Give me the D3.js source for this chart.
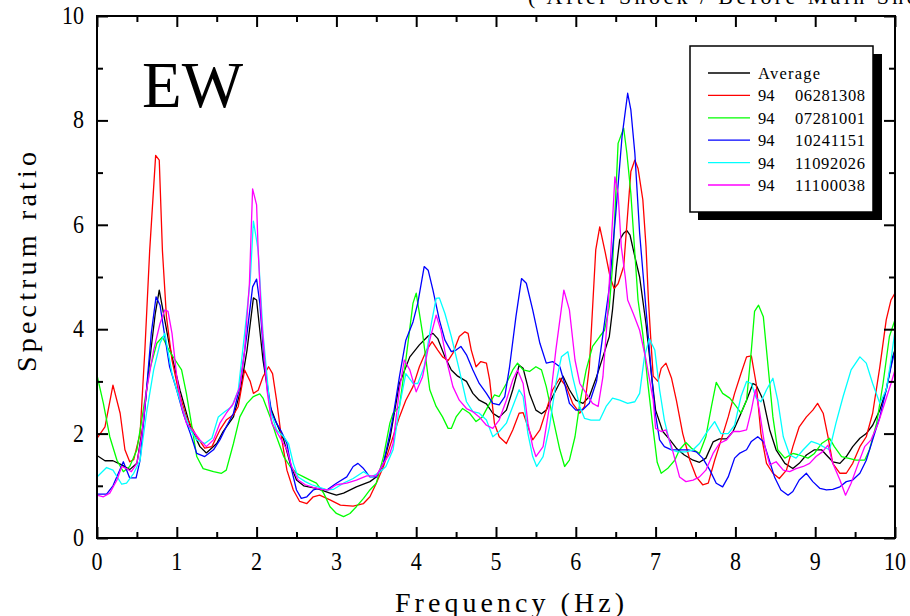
<!DOCTYPE html>
<html>
<head>
<meta charset="utf-8">
<script src="https://cdn.jsdelivr.net/npm/d3@7"></script>
<style>
  body { margin: 0; background: #fff; }
  svg { display: block; }
</style>
</head>
<body>
<svg id="chart" width="910" height="616"></svg>
<script>
// [frequency (Hz), spectrum ratio]
const average = [[0,1.58],[0.1,1.48],[0.2,1.48],[0.31,1.40],[0.41,1.31],[0.5,1.43],[0.58,2.2],[0.66,3.4],[0.73,4.3],[0.78,4.75],[0.91,3.67],[1.04,2.83],[1.17,2.13],[1.29,1.75],[1.37,1.63],[1.5,1.81],[1.58,2.04],[1.71,2.32],[1.79,2.77],[1.88,3.6],[1.96,4.6],[2.0,4.56],[2.08,3.41],[2.17,2.52],[2.25,2.2],[2.34,1.88],[2.42,1.43],[2.5,1.11],[2.59,1.0],[2.75,0.95],[2.92,0.86],[3.0,0.82],[3.09,0.86],[3.25,0.98],[3.42,1.08],[3.5,1.17],[3.59,1.43],[3.67,1.9],[3.79,2.96],[3.92,3.47],[4.04,3.70],[4.15,3.87],[4.21,3.92],[4.27,3.82],[4.36,3.47],[4.44,3.22],[4.52,3.10],[4.63,3.0],[4.71,2.77],[4.79,2.64],[4.88,2.57],[4.96,2.39],[5.04,2.31],[5.13,2.45],[5.21,2.84],[5.29,3.31],[5.34,3.25],[5.42,2.77],[5.5,2.45],[5.57,2.38],[5.63,2.45],[5.71,2.71],[5.84,3.10],[5.92,2.84],[6.0,2.64],[6.09,2.58],[6.17,2.71],[6.26,3.09],[6.34,3.47],[6.42,3.86],[6.46,4.37],[6.51,5.2],[6.55,5.71],[6.6,5.84],[6.64,5.89],[6.68,5.8],[6.74,5.39],[6.8,5.0],[6.88,4.1],[6.95,3.1],[7.0,2.45],[7.09,2.04],[7.18,1.88],[7.26,1.72],[7.36,1.59],[7.47,1.49],[7.55,1.45],[7.63,1.53],[7.72,1.84],[7.8,1.90],[7.89,1.90],[7.97,2.04],[8.05,2.32],[8.14,2.64],[8.22,2.96],[8.26,2.93],[8.35,2.64],[8.43,2.07],[8.51,1.69],[8.62,1.43],[8.72,1.33],[8.8,1.43],[8.89,1.59],[8.99,1.69],[9.08,1.69],[9.14,1.59],[9.22,1.46],[9.31,1.43],[9.39,1.56],[9.47,1.75],[9.56,1.91],[9.64,2.0],[9.72,2.16],[9.81,2.45],[9.89,2.84],[9.97,3.47],[10,3.6]];

const ev06281308 = [[0,1.91],[0.1,2.13],[0.2,2.93],[0.29,2.39],[0.35,1.69],[0.41,1.46],[0.46,1.5],[0.54,2.0],[0.6,3.6],[0.66,5.5],[0.735,7.33],[0.78,7.24],[0.82,5.5],[0.87,4.24],[0.94,3.41],[1.02,2.83],[1.12,2.32],[1.25,1.94],[1.35,1.72],[1.44,1.75],[1.54,2.07],[1.62,2.26],[1.71,2.36],[1.77,2.52],[1.85,3.22],[1.92,3.0],[1.96,2.77],[2.02,2.83],[2.08,3.09],[2.15,3.28],[2.2,3.15],[2.25,2.64],[2.31,1.94],[2.38,1.30],[2.46,0.92],[2.54,0.70],[2.63,0.66],[2.71,0.79],[2.79,0.82],[2.92,0.73],[3.05,0.63],[3.21,0.61],[3.34,0.66],[3.42,0.79],[3.5,1.05],[3.59,1.37],[3.67,1.75],[3.79,2.32],[3.87,2.64],[3.96,2.90],[4.04,3.28],[4.13,3.6],[4.2,3.76],[4.27,3.6],[4.33,3.47],[4.4,3.40],[4.46,3.54],[4.54,3.86],[4.61,3.95],[4.65,3.92],[4.69,3.6],[4.75,3.28],[4.81,3.38],[4.88,3.35],[4.92,3.03],[4.98,2.2],[5.04,1.94],[5.13,1.81],[5.21,2.07],[5.29,2.39],[5.34,2.40],[5.4,2.13],[5.46,1.88],[5.55,2.07],[5.63,2.45],[5.71,2.84],[5.8,3.06],[5.88,2.9],[5.96,2.58],[6.05,2.39],[6.11,2.52],[6.17,3.28],[6.25,5.52],[6.3,5.96],[6.37,5.46],[6.43,5.0],[6.48,4.78],[6.53,4.87],[6.6,5.2],[6.69,7.02],[6.74,7.24],[6.78,7.08],[6.84,6.48],[6.88,5.58],[6.91,4.56],[6.94,3.8],[6.97,3.1],[7.03,3.0],[7.07,3.25],[7.13,3.35],[7.2,3.06],[7.26,2.64],[7.34,2.0],[7.43,1.49],[7.51,1.17],[7.59,1.02],[7.66,1.05],[7.74,1.49],[7.82,1.87],[7.91,2.32],[7.99,2.77],[8.07,3.15],[8.14,3.47],[8.2,3.49],[8.26,2.96],[8.32,2.0],[8.39,1.43],[8.47,1.24],[8.55,1.14],[8.64,1.30],[8.72,1.75],[8.8,2.13],[8.89,2.32],[8.97,2.45],[9.03,2.58],[9.1,2.39],[9.16,1.94],[9.22,1.43],[9.31,1.24],[9.39,1.24],[9.47,1.43],[9.56,1.75],[9.64,1.94],[9.72,2.39],[9.81,3.28],[9.89,4.18],[9.95,4.56],[10,4.69]];

const ev07281001 = [[0,3.12],[0.08,2.58],[0.16,1.94],[0.25,1.49],[0.33,1.27],[0.41,1.37],[0.5,1.69],[0.58,2.45],[0.66,3.22],[0.75,3.73],[0.82,3.85],[0.9,3.6],[0.98,3.41],[1.06,3.22],[1.12,2.77],[1.19,2.13],[1.25,1.56],[1.33,1.33],[1.46,1.27],[1.56,1.24],[1.62,1.30],[1.71,1.81],[1.79,2.32],[1.88,2.58],[1.96,2.71],[2.04,2.76],[2.08,2.68],[2.17,2.32],[2.25,1.94],[2.34,1.56],[2.42,1.37],[2.5,1.24],[2.59,1.17],[2.67,1.11],[2.75,1.05],[2.84,0.86],[2.92,0.60],[3.0,0.47],[3.09,0.41],[3.17,0.47],[3.25,0.60],[3.34,0.76],[3.42,0.92],[3.5,1.05],[3.59,1.56],[3.67,2.2],[3.71,2.39],[3.79,2.52],[3.87,3.41],[3.96,4.5],[4.0,4.69],[4.08,3.92],[4.17,2.84],[4.25,2.52],[4.33,2.32],[4.4,2.10],[4.44,2.10],[4.5,2.32],[4.58,2.48],[4.67,2.39],[4.75,2.23],[4.83,2.32],[4.92,2.58],[4.98,2.74],[5.04,2.71],[5.13,2.96],[5.21,3.22],[5.27,3.35],[5.34,3.22],[5.42,3.19],[5.5,3.28],[5.57,3.22],[5.63,2.9],[5.71,2.32],[5.8,1.69],[5.86,1.37],[5.92,1.49],[5.99,1.94],[6.05,2.58],[6.13,3.22],[6.21,3.67],[6.3,3.86],[6.36,3.98],[6.42,4.43],[6.46,5.2],[6.53,7.56],[6.6,7.85],[6.64,7.37],[6.69,6.6],[6.74,5.45],[6.78,4.56],[6.84,3.9],[6.9,3.0],[6.96,2.2],[7.02,1.45],[7.07,1.24],[7.15,1.33],[7.24,1.49],[7.3,1.69],[7.38,1.83],[7.45,1.72],[7.55,1.62],[7.63,1.94],[7.7,2.52],[7.76,2.98],[7.84,2.77],[7.93,2.68],[8.01,2.52],[8.07,2.39],[8.14,2.64],[8.2,3.6],[8.24,4.34],[8.29,4.46],[8.35,4.24],[8.41,3.28],[8.47,2.32],[8.53,1.69],[8.62,1.53],[8.72,1.62],[8.8,1.59],[8.91,1.53],[8.99,1.62],[9.08,1.81],[9.18,1.91],[9.24,1.75],[9.33,1.56],[9.41,1.53],[9.51,1.49],[9.62,1.49],[9.68,1.69],[9.77,2.2],[9.85,2.96],[9.93,3.86],[10,4.18]];

const ev10241151 = [[0,0.84],[0.12,0.84],[0.2,1.0],[0.33,1.46],[0.41,1.15],[0.49,1.15],[0.54,1.49],[0.62,2.83],[0.68,3.92],[0.74,4.62],[0.79,4.46],[0.85,3.86],[0.91,3.28],[1.0,2.83],[1.08,2.39],[1.17,2.0],[1.25,1.62],[1.35,1.56],[1.46,1.69],[1.54,1.88],[1.62,2.13],[1.71,2.39],[1.79,2.9],[1.88,3.92],[1.95,4.81],[2.0,4.96],[2.04,4.5],[2.1,3.28],[2.19,2.39],[2.25,2.2],[2.31,2.04],[2.38,1.81],[2.44,1.30],[2.5,0.92],[2.56,0.76],[2.63,0.79],[2.71,0.92],[2.79,0.95],[2.88,0.92],[3.0,1.05],[3.13,1.17],[3.21,1.37],[3.27,1.43],[3.34,1.33],[3.42,1.17],[3.5,1.17],[3.59,1.43],[3.67,2.0],[3.71,2.32],[3.79,3.09],[3.87,3.79],[3.96,4.14],[4.02,4.5],[4.1,5.2],[4.15,5.13],[4.21,4.75],[4.29,4.18],[4.36,3.79],[4.44,3.57],[4.5,3.6],[4.56,3.67],[4.63,3.51],[4.71,3.22],[4.79,2.96],[4.88,2.77],[4.96,2.58],[5.04,2.55],[5.11,2.71],[5.17,3.28],[5.25,4.24],[5.32,4.97],[5.38,4.88],[5.46,4.37],[5.55,3.73],[5.63,3.35],[5.71,3.38],[5.8,3.28],[5.86,2.96],[5.92,2.58],[6.0,2.45],[6.09,2.46],[6.17,2.58],[6.26,3.0],[6.34,3.9],[6.42,4.8],[6.5,6.2],[6.58,7.7],[6.65,8.52],[6.69,8.2],[6.74,7.37],[6.8,5.84],[6.87,4.56],[6.94,3.28],[6.99,2.45],[7.05,1.88],[7.11,1.75],[7.2,1.69],[7.3,1.69],[7.41,1.69],[7.51,1.65],[7.59,1.53],[7.68,1.30],[7.76,1.05],[7.84,0.98],[7.91,1.17],[7.99,1.53],[8.05,1.62],[8.14,1.69],[8.2,1.85],[8.28,1.94],[8.35,1.85],[8.41,1.56],[8.49,1.17],[8.57,0.92],[8.66,0.82],[8.72,0.89],[8.8,1.11],[8.89,1.24],[8.97,1.08],[9.06,0.95],[9.14,0.92],[9.22,0.93],[9.31,0.98],[9.39,1.08],[9.47,1.11],[9.56,1.24],[9.64,1.49],[9.72,1.88],[9.81,2.32],[9.89,2.84],[9.95,3.28],[10,3.6]];

const ev11092026 = [[0,1.17],[0.12,1.35],[0.2,1.30],[0.31,1.03],[0.37,1.05],[0.46,1.24],[0.54,1.49],[0.62,2.39],[0.71,3.22],[0.79,3.73],[0.85,3.92],[0.94,3.15],[1.0,2.83],[1.08,2.45],[1.17,2.07],[1.25,1.88],[1.35,1.81],[1.44,1.91],[1.52,2.32],[1.6,2.42],[1.69,2.52],[1.77,2.83],[1.85,3.92],[1.92,4.94],[1.96,6.07],[2.0,5.7],[2.02,5.5],[2.08,3.92],[2.17,2.45],[2.25,2.07],[2.34,1.94],[2.4,1.81],[2.46,1.43],[2.52,1.17],[2.61,1.08],[2.69,1.02],[2.79,0.97],[2.88,0.92],[2.96,0.93],[3.09,1.05],[3.21,1.14],[3.34,1.27],[3.44,1.17],[3.55,1.27],[3.62,1.37],[3.71,1.69],[3.79,2.52],[3.87,3.15],[3.96,2.96],[4.02,2.96],[4.1,3.28],[4.19,4.11],[4.25,4.59],[4.29,4.6],[4.36,4.3],[4.44,3.86],[4.54,3.22],[4.63,2.61],[4.71,2.42],[4.79,2.39],[4.88,2.26],[4.96,1.94],[5.04,2.04],[5.13,2.2],[5.21,2.52],[5.29,2.84],[5.34,2.71],[5.4,2.0],[5.46,1.56],[5.51,1.37],[5.59,1.56],[5.67,2.13],[5.75,2.96],[5.82,3.47],[5.9,3.57],[5.96,3.09],[6.05,2.52],[6.11,2.29],[6.19,2.26],[6.3,2.26],[6.38,2.52],[6.46,2.68],[6.55,2.64],[6.65,2.58],[6.74,2.61],[6.8,2.77],[6.86,3.47],[6.92,3.82],[6.99,3.6],[7.05,2.84],[7.11,2.26],[7.2,1.69],[7.28,1.65],[7.38,1.65],[7.47,1.69],[7.55,1.81],[7.63,2.0],[7.74,2.23],[7.82,2.0],[7.91,2.0],[7.99,2.16],[8.07,2.71],[8.14,3.0],[8.2,2.96],[8.26,2.68],[8.32,2.61],[8.39,2.84],[8.47,3.06],[8.53,2.64],[8.6,1.94],[8.68,1.59],[8.76,1.53],[8.85,1.69],[8.95,1.85],[9.03,1.81],[9.1,1.75],[9.18,1.69],[9.26,2.2],[9.35,2.71],[9.45,3.22],[9.56,3.47],[9.64,3.35],[9.72,2.96],[9.81,2.58],[9.89,2.84],[9.95,3.41],[10,3.98]];

const ev11100038 = [[0,0.82],[0.08,0.79],[0.16,0.86],[0.25,1.11],[0.31,1.37],[0.37,1.33],[0.43,1.27],[0.5,1.43],[0.56,1.94],[0.62,2.83],[0.71,3.6],[0.79,4.11],[0.85,4.37],[0.89,4.34],[0.94,3.92],[1.0,3.09],[1.06,2.52],[1.12,2.2],[1.21,2.04],[1.29,1.88],[1.37,1.75],[1.46,1.88],[1.54,2.2],[1.62,2.39],[1.71,2.58],[1.79,2.9],[1.85,3.6],[1.91,4.88],[1.95,6.69],[2.0,6.38],[2.02,5.5],[2.06,4.24],[2.13,2.83],[2.19,2.2],[2.25,2.04],[2.31,1.88],[2.38,1.69],[2.44,1.37],[2.52,1.11],[2.61,1.02],[2.71,0.97],[2.82,0.93],[2.9,0.92],[3.0,1.02],[3.13,1.05],[3.25,1.11],[3.38,1.19],[3.5,1.19],[3.59,1.43],[3.67,1.62],[3.71,1.81],[3.79,2.84],[3.85,3.41],[3.92,3.22],[4.0,2.8],[4.08,3.09],[4.17,3.79],[4.25,4.27],[4.31,3.98],[4.38,3.41],[4.46,2.9],[4.54,2.64],[4.63,2.48],[4.71,2.42],[4.79,2.32],[4.88,2.16],[4.96,2.1],[5.04,2.26],[5.13,2.64],[5.21,3.03],[5.27,3.22],[5.34,2.96],[5.4,2.2],[5.46,1.75],[5.5,1.56],[5.59,1.75],[5.67,2.52],[5.75,3.6],[5.85,4.75],[5.92,4.37],[5.99,3.41],[6.05,2.96],[6.13,2.77],[6.21,2.58],[6.28,2.52],[6.34,3.09],[6.4,4.3],[6.45,5.8],[6.49,6.92],[6.53,6.6],[6.57,5.58],[6.62,5.0],[6.65,4.56],[6.72,4.3],[6.8,3.98],[6.88,3.41],[6.97,2.64],[7.0,2.1],[7.07,2.04],[7.13,2.07],[7.2,1.75],[7.3,1.17],[7.38,1.08],[7.47,1.11],[7.55,1.17],[7.63,1.30],[7.72,1.62],[7.8,1.81],[7.89,1.88],[7.97,2.04],[8.05,2.04],[8.14,2.07],[8.2,2.45],[8.25,2.84],[8.3,2.45],[8.37,1.75],[8.43,1.40],[8.51,1.46],[8.6,1.30],[8.68,1.27],[8.76,1.33],[8.85,1.37],[8.93,1.43],[9.01,1.56],[9.09,1.65],[9.16,1.78],[9.22,1.43],[9.31,1.11],[9.38,0.82],[9.45,1.05],[9.54,1.43],[9.62,1.75],[9.7,1.88],[9.79,2.2],[9.87,2.58],[9.95,2.96],[10,3.22]];

const seriesYear = ['', '94', '94', '94', '94', '94'];
const seriesNames = ['Average', '06281308', '07281001', '10241151', '11092026', '11100038'];
const seriesColors = ['#000000', '#ff0000', '#00ff00', '#0000ff', '#00ffff', '#ff00ff'];
const seriesData = [average, ev06281308, ev07281001, ev10241151, ev11092026, ev11100038];

const xMajor = [0, 1, 2, 3, 4, 5, 6, 7, 8, 9, 10];
const xMinor = [0.5, 1.5, 2.5, 3.5, 4.5, 5.5, 6.5, 7.5, 8.5, 9.5];
const yMajor = [0, 2, 4, 6, 8, 10];
const yMinor = [1, 3, 5, 7, 9];

const svg = d3.select('#chart');
const plotL = 97, plotR = 895, plotT = 16, plotB = 538;

const x = d3.scaleLinear().domain([0, 10]).range([plotL, plotR]);
const y = d3.scaleLinear().domain([0, 10]).range([plotB, plotT]);

const serif = '"Liberation Serif", "DejaVu Serif", serif';

// title, cut off by the top edge
svg.append('text')
  .attr('x', 528).attr('y', 4)
  .attr('font-family', serif).attr('font-size', 22)
  .attr('textLength', 437).attr('lengthAdjust', 'spacing')
  .text('( After Shock / Before Main Shock )');

// lines
const line = d3.line()
  .x(d => x(d[0]))
  .y(d => y(d[1]));

seriesData.forEach((s, i) => {
  svg.append('path')
    .datum(s)
    .attr('fill', 'none')
    .attr('stroke', seriesColors[i])
    .attr('stroke-width', 1.3)
    .attr('stroke-linejoin', 'round')
    .attr('d', line);
});

// ticks on all four sides, pointing inward
function tickAxis(axisFn, scale, values, size, transform) {
  const g = svg.append('g')
    .attr('transform', transform)
    .call(axisFn(scale).tickValues(values).tickSize(-size).tickSizeOuter(0).tickFormat(''));
  g.select('.domain').remove();
  g.selectAll('line').attr('stroke', '#000').attr('stroke-width', 2);
  return g;
}

tickAxis(d3.axisBottom, x, xMajor, 11, `translate(0,${plotB})`);
tickAxis(d3.axisBottom, x, xMinor, 6, `translate(0,${plotB})`);
tickAxis(d3.axisTop, x, xMajor, 11, `translate(0,${plotT})`);
tickAxis(d3.axisTop, x, xMinor, 6, `translate(0,${plotT})`);
tickAxis(d3.axisLeft, y, yMajor, 11, `translate(${plotL},0)`);
tickAxis(d3.axisLeft, y, yMinor, 6, `translate(${plotL},0)`);
tickAxis(d3.axisRight, y, yMajor, 11, `translate(${plotR},0)`);
tickAxis(d3.axisRight, y, yMinor, 6, `translate(${plotR},0)`);

svg.append('rect')
  .attr('x', plotL).attr('y', plotT)
  .attr('width', plotR - plotL).attr('height', plotB - plotT)
  .attr('fill', 'none').attr('stroke', '#000').attr('stroke-width', 2);

// tick labels
svg.append('g').selectAll('text')
  .data(xMajor).join('text')
  .attr('transform', d => `translate(${x(d)},570) scale(1,1.15)`)
  .attr('text-anchor', 'middle')
  .attr('font-family', serif).attr('font-size', 22)
  .text(d => d);

svg.append('g').selectAll('text')
  .data(yMajor).join('text')
  .attr('transform', d => `translate(84,${y(d) + 8}) scale(1,1.1)`)
  .attr('text-anchor', 'end')
  .attr('font-family', serif).attr('font-size', 22)
  .text(d => d);

// axis titles (monospaced look: letters spread to the original width)
svg.append('text')
  .attr('x', 395).attr('y', 612)
  .attr('font-family', serif).attr('font-size', 28)
  .attr('textLength', 229).attr('lengthAdjust', 'spacing')
  .text('Frequency (Hz)');

svg.append('text')
  .attr('transform', 'translate(36,372) rotate(-90)')
  .attr('font-family', serif).attr('font-size', 28)
  .attr('textLength', 220).attr('lengthAdjust', 'spacing')
  .text('Spectrum ratio');

// component label
svg.append('text')
  .attr('x', 142).attr('y', 107)
  .attr('font-family', serif).attr('font-size', 65)
  .text('EW');

// legend with drop shadow
const legend = svg.append('g');
legend.append('rect')
  .attr('x', 698).attr('y', 54).attr('width', 184).attr('height', 166)
  .attr('fill', '#000');
legend.append('rect')
  .attr('x', 690).attr('y', 46).attr('width', 183).attr('height', 166)
  .attr('fill', '#fff').attr('stroke', '#000').attr('stroke-width', 1.5);

const rows = legend.selectAll('g.row')
  .data(seriesNames).join('g')
  .attr('class', 'row')
  .attr('transform', (d, i) => `translate(0,${73 + i * 22.4})`);
rows.append('line')
  .attr('x1', 708).attr('x2', 750)
  .attr('stroke', (d, i) => seriesColors[i]).attr('stroke-width', 1.3);
rows.append('text')
  .attr('x', 758).attr('y', 6)
  .attr('font-family', serif).attr('font-size', 16.5)
  .text((d, i) => seriesYear[i]);
rows.append('text')
  .attr('x', (d, i) => i === 0 ? 758 : 795).attr('y', 6)
  .attr('font-family', serif).attr('font-size', 16.5)
  .attr('textLength', (d, i) => i === 0 ? 62 : 70).attr('lengthAdjust', 'spacing')
  .text(d => d);
</script>
</body>
</html>
